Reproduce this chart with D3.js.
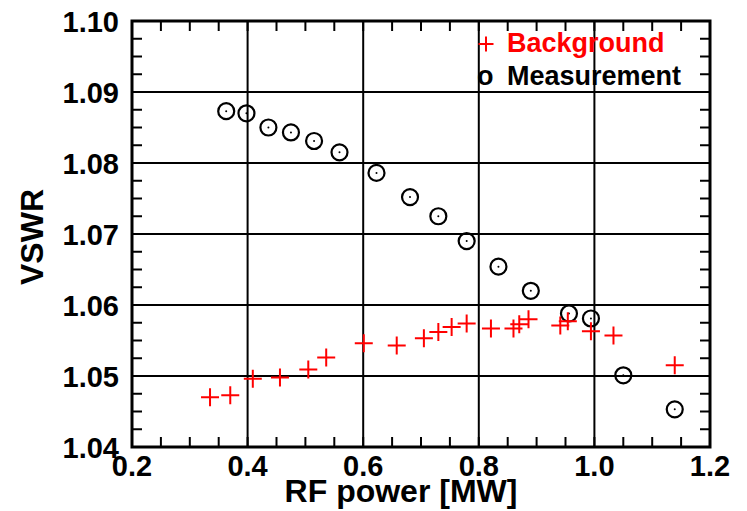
<!DOCTYPE html>
<html lang="en">
<head>
<meta charset="utf-8">
<title>VSWR vs RF power</title>
<script src="https://cdn.jsdelivr.net/npm/d3@7/dist/d3.min.js"></script>
<style>
  body { margin: 0; background: #fff; }
  text { font-family: "Liberation Sans", Arial, sans-serif; font-weight: bold; }
</style>
</head>
<body>
<div id="chart"></div>
<script>
// background (red crosses)
var bgPower = [0.335, 0.370, 0.409, 0.456, 0.505, 0.536, 0.601, 0.658, 0.705, 0.730, 0.753, 0.779,
               0.821, 0.860, 0.870, 0.886, 0.941, 0.954, 0.994, 1.033, 1.139];
var bgVswr  = [1.0470, 1.0473, 1.0496, 1.0498, 1.0509, 1.0526, 1.0546, 1.0543, 1.0553, 1.0562, 1.0569, 1.0574,
               1.0567, 1.0567, 1.0573, 1.0580, 1.0571, 1.0577, 1.0563, 1.0557, 1.0515];
// measurement (black circles)
var mPower = [0.363, 0.398, 0.436, 0.475, 0.515, 0.559, 0.623, 0.681, 0.730, 0.779, 0.834, 0.890,
              0.956, 0.994, 1.050, 1.139];
var mVswr  = [1.0873, 1.0870, 1.0850, 1.0843, 1.0831, 1.0815, 1.0786, 1.0752, 1.0725, 1.0690, 1.0654, 1.0620,
              1.0588, 1.0581, 1.0501, 1.0453];

var xTicks = [0.2, 0.4, 0.6, 0.8, 1.0, 1.2];
var yTicks = [1.04, 1.05, 1.06, 1.07, 1.08, 1.09, 1.10];
var seriesNames = ["Background", "Measurement"];

var width = 747, height = 511;
var pL = 132, pR = 710, pT = 21, pB = 447;

var svg = d3.select("#chart").append("svg")
  .attr("width", width)
  .attr("height", height);

var x = d3.scaleLinear().domain([0.2, 1.2]).range([pL, pR]);
var y = d3.scaleLinear().domain([1.04, 1.10]).range([pB, pT]);

// minor ticks, inward on all four sides
var xMinor = d3.range(0.2, 1.2001, 0.05);
var yMinor = d3.range(1.04, 1.10001, 0.0025);
var tl = 10;
var g = svg.append("g").attr("stroke", "#000").attr("stroke-width", 2);
xMinor.forEach(function(v) {
  g.append("line").attr("x1", x(v)).attr("x2", x(v)).attr("y1", pB).attr("y2", pB - tl);
  g.append("line").attr("x1", x(v)).attr("x2", x(v)).attr("y1", pT).attr("y2", pT + tl);
});
yMinor.forEach(function(v) {
  g.append("line").attr("y1", y(v)).attr("y2", y(v)).attr("x1", pL).attr("x2", pL + tl);
  g.append("line").attr("y1", y(v)).attr("y2", y(v)).attr("x1", pR).attr("x2", pR - tl);
});

// grid lines at major ticks
xTicks.slice(1, -1).forEach(function(v) {
  g.append("line").attr("x1", x(v)).attr("x2", x(v)).attr("y1", pT).attr("y2", pB);
});
yTicks.slice(1, -1).forEach(function(v) {
  g.append("line").attr("x1", pL).attr("x2", pR).attr("y1", y(v)).attr("y2", y(v));
});

// frame
svg.append("rect")
  .attr("x", pL).attr("y", pT)
  .attr("width", pR - pL).attr("height", pB - pT)
  .attr("fill", "none").attr("stroke", "#000").attr("stroke-width", 3);

// tick labels
svg.selectAll(".xl").data(xTicks).enter().append("text")
  .attr("x", function(d) { return x(d); })
  .attr("y", 476)
  .attr("text-anchor", "middle")
  .attr("font-size", 29)
  .text(function(d) { return d.toFixed(1); });

svg.selectAll(".yl").data(yTicks).enter().append("text")
  .attr("x", 119)
  .attr("y", function(d) { return y(d) + 10.5; })
  .attr("text-anchor", "end")
  .attr("font-size", 29)
  .text(function(d) { return d.toFixed(2); });

// axis titles
svg.append("text")
  .attr("x", 401).attr("y", 502)
  .attr("text-anchor", "middle")
  .attr("font-size", 32)
  .text("RF power [MW]");

svg.append("text")
  .attr("transform", "translate(43,237) rotate(-90)")
  .attr("text-anchor", "middle")
  .attr("font-size", 32)
  .text("VSWR");

// measurement circles
var meas = d3.zip(mPower, mVswr);
svg.selectAll(".m").data(meas).enter().append("circle")
  .attr("cx", function(d) { return x(d[0]); })
  .attr("cy", function(d) { return y(d[1]); })
  .attr("r", 8)
  .attr("fill", "none")
  .attr("stroke", "#000")
  .attr("stroke-width", 2.2);
svg.selectAll(".md").data(meas).enter().append("circle")
  .attr("cx", function(d) { return x(d[0]); })
  .attr("cy", function(d) { return y(d[1]); })
  .attr("r", 1)
  .attr("fill", "#000");

// background crosses
function plus(px, py, s) {
  return "M" + (px - s) + "," + py + "H" + (px + s) + "M" + px + "," + (py - s) + "V" + (py + s);
}
var bg = d3.zip(bgPower, bgVswr);
svg.selectAll(".b").data(bg).enter().append("path")
  .attr("d", function(d) { return plus(x(d[0]), y(d[1]), 9); })
  .attr("stroke", "#ff0000")
  .attr("stroke-width", 2)
  .attr("fill", "none");

// legend
svg.append("path")
  .attr("d", plus(486, 44, 7.5))
  .attr("stroke", "#ff0000").attr("stroke-width", 2).attr("fill", "none");
svg.append("text")
  .attr("x", 507).attr("y", 52)
  .attr("font-size", 27)
  .attr("fill", "#ff0000")
  .text(seriesNames[0]);
svg.append("text")
  .attr("x", 477).attr("y", 85)
  .attr("font-size", 27)
  .attr("fill", "#000")
  .text("o");
svg.append("text")
  .attr("x", 507).attr("y", 85)
  .attr("font-size", 27)
  .attr("fill", "#000")
  .text(seriesNames[1]);
</script>
</body>
</html>
